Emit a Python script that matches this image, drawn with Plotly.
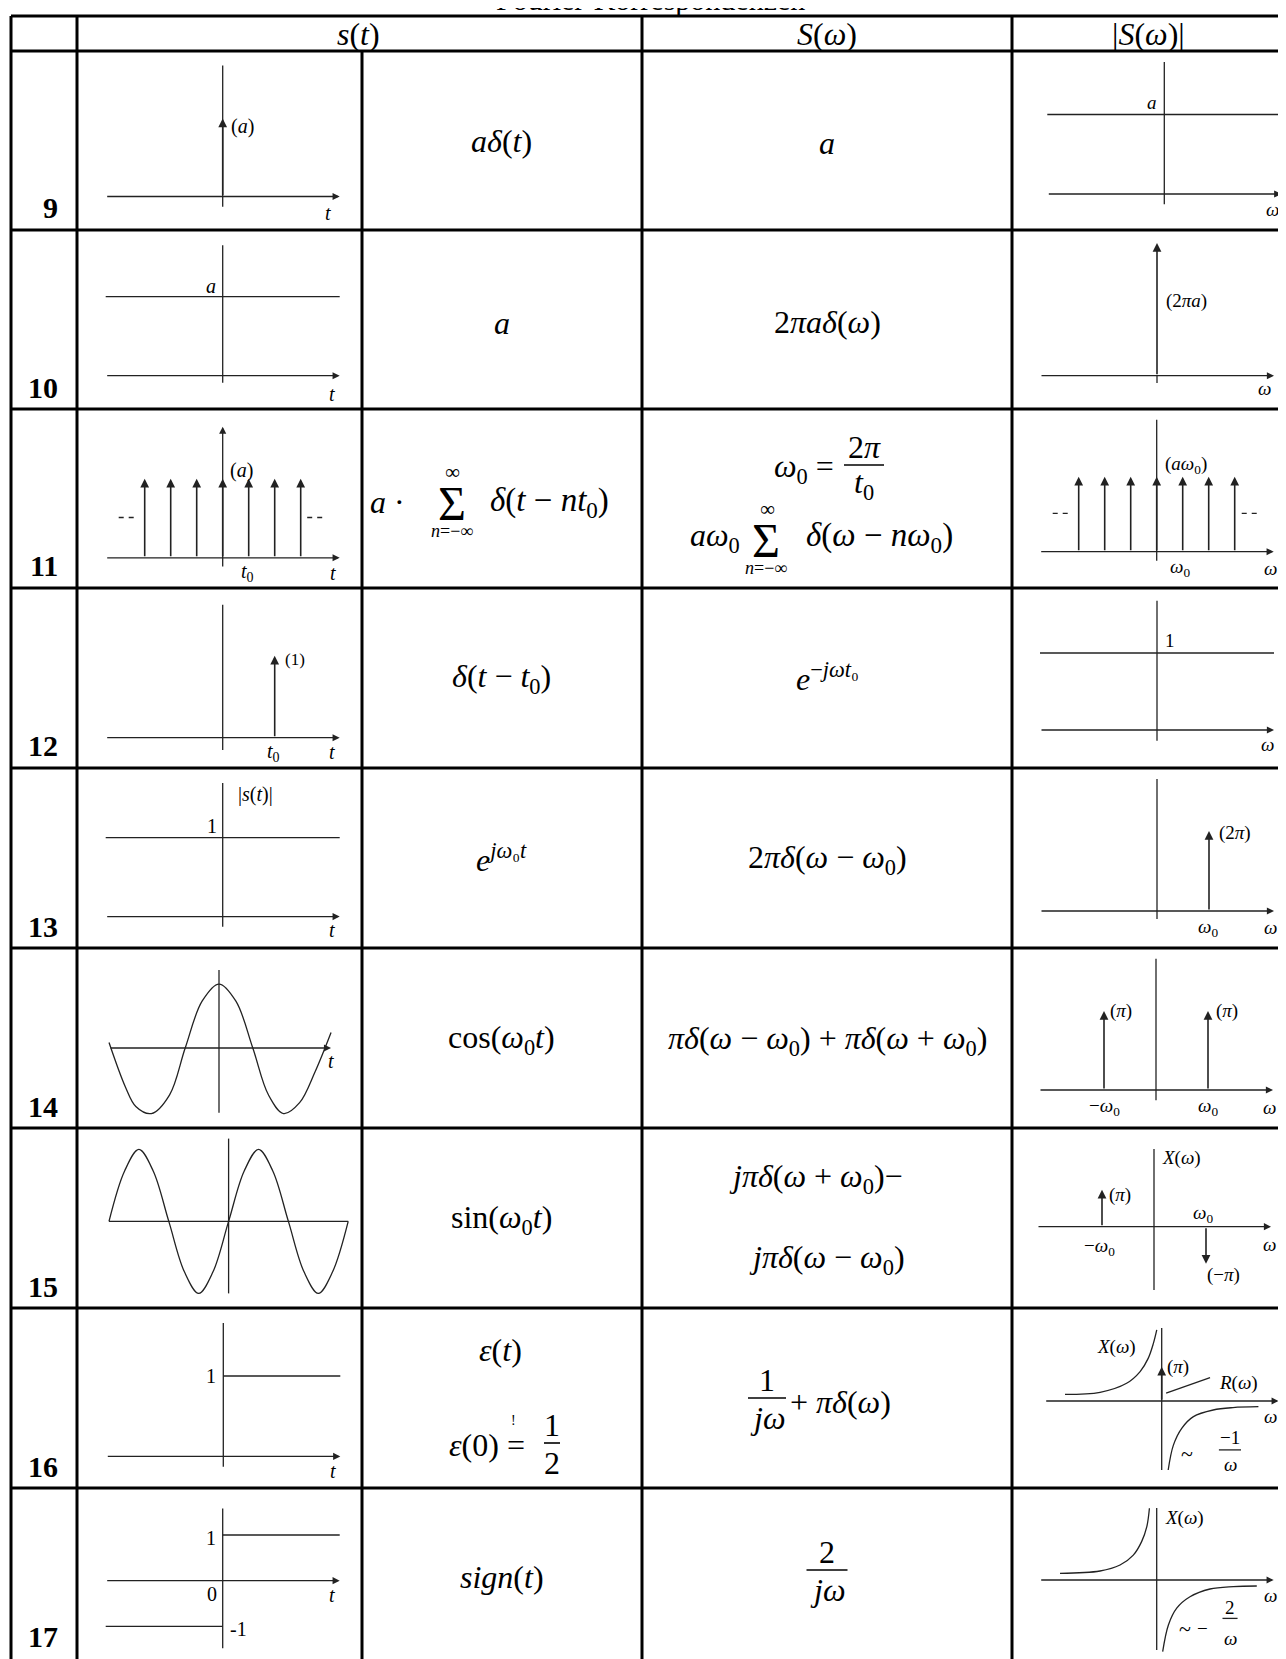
import plotly.graph_objects as go

# page size and the 8px body margin of the html page
W, H = 1286, 1659
OX, OY = 8, 8
FW, FH = W - OX, H - OY
FONT = "Liberation Serif, Times New Roman, serif"
INK = "#222222"

# ---------------- table text ----------------
TITLE = "Fourier-Korrespondenzen"
ROW_NUMBERS = ["9", "10", "11", "12", "13", "14", "15", "16", "17"]
HEADERS = ["<i>s</i>(<i>t</i>)", "<i>S</i>(<i>ω</i>)", "|<i>S</i>(<i>ω</i>)|"]
TIME_FORMULAS = [
    "<i>aδ</i>(<i>t</i>)",
    "<i>a</i>",
    None,
    "<i>δ</i>(<i>t</i> − <i>t</i><sub>0</sub>)",
    "<i>e</i><sup><i>jω</i>₀<i>t</i></sup>",
    "cos(<i>ω</i><sub>0</sub><i>t</i>)",
    "sin(<i>ω</i><sub>0</sub><i>t</i>)",
    None,
    "<i>sign</i>(<i>t</i>)",
]
FREQ_FORMULAS = [
    "<i>a</i>",
    "2<i>πaδ</i>(<i>ω</i>)",
    None,
    "<i>e</i><sup>−<i>jωt</i>₀</sup>",
    "2<i>πδ</i>(<i>ω</i> − <i>ω</i><sub>0</sub>)",
    "<i>πδ</i>(<i>ω</i> − <i>ω</i><sub>0</sub>) + <i>πδ</i>(<i>ω</i> + <i>ω</i><sub>0</sub>)",
    None,
    None,
    None,
]

# ---------------- sketch data (units: t0 spacing = 1, level = 1) ----------------
ST_IMPULSES = {0: ([0], [1]), 2: ([-3, -2, -1, 0, 1, 2, 3], [1, 1, 1, 1, 1, 1, 1]), 3: ([2], [1])}
SW_IMPULSES = {1: ([0], [1.66]), 2: ([-3, -2, -1, 0, 1, 2, 3], [1, 1, 1, 1, 1, 1, 1]),
               4: ([2], [1]), 5: ([-2, 2], [1, 1]), 6: ([-2, 2], [1, -1]), 7: ([0], [1.14])}
ST_LEVELS = {1: [([-4.5, 4.5], [1, 1])], 4: [([-4.5, 4.5], [1, 1])], 7: [([0, 4.5], [1, 1])],
             8: [([0, 4.5], [1, 1]), ([-4.5, 0], [-1, -1])]}
SW_LEVELS = {0: [([-4.5, 4.5], [1, 1])], 3: [([-4.5, 4.5], [1, 1])]}

COS_T = [-4.23, -3.6, -3.2, -2.6, -1.9, -1.3, -0.65, 0, 0.65, 1.3, 1.9, 2.48, 3.1, 3.7, 4.31]
COS_S = [0.07, -0.5, -0.75, -0.84, -0.6, 0.0, 0.6, 0.82, 0.6, 0.0, -0.6, -0.84, -0.7, -0.3, 0.2]
SIN_T = [-4.6, -4.0, -3.45, -2.9, -2.3, -1.7, -1.15, -0.6, 0, 0.6, 1.15, 1.7, 2.3, 2.9, 3.45, 4.0, 4.6]
SIN_S = [0, 0.7, 1, 0.7, 0, -0.7, -1, -0.7, 0, 0.7, 1, 0.7, 0, -0.7, -1, -0.7, 0]

X16_NEG_W = [-3.72, -2.37, -1.35, -0.83, -0.52, -0.32, -0.19]
X16_NEG = [0.22, 0.29, 0.59, 0.98, 1.42, 1.92, 2.37]
X16_POS_W = [0.25, 0.45, 0.77, 1.22, 1.98, 2.74, 3.72]
X16_POS = [-2.3, -1.47, -0.91, -0.52, -0.3, -0.22, -0.19]
R16_W = [0.17, 1.86]
R16 = [0.26, 0.78]
X17_NEG_W = [-3.72, -2.18, -1.41, -0.9, -0.58, -0.38, -0.28]
X17_NEG = [0.22, 0.3, 0.5, 0.83, 1.28, 1.78, 2.39]
X17_POS_W = [0.23, 0.45, 0.77, 1.28, 2.05, 2.95, 3.85]
X17_POS = [-2.39, -1.5, -0.94, -0.56, -0.3, -0.22, -0.2]

ST_LABELS = {
    0: [(0.25, 0.9, "(<i>a</i>)", "left"), (4.05, -0.21, "<i>t</i>", "center")],
    1: [(-0.2, 1.13, "<i>a</i>", "right"), (4.2, -0.23, "<i>t</i>", "center")],
    2: [(0.2, 1.11, "(<i>a</i>)", "left"), (0.94, -0.19, "<i>t</i><sub>0</sub>", "center"),
        (4.25, -0.19, "<i>t</i>", "center")],
    3: [(2.3, 0.95, "(1)", "left"), (1.94, -0.18, "<i>t</i><sub>0</sub>", "center"),
        (4.2, -0.18, "<i>t</i>", "center")],
    4: [(0.5, 1.55, "|<i>s</i>(<i>t</i>)|", "left"), (-0.15, 1.15, "1", "right"),
        (4.2, -0.17, "<i>t</i>", "center")],
    5: [(4.32, -0.17, "<i>t</i>", "center")],
    6: [],
    7: [(-0.2, 1.0, "1", "right"), (4.2, -0.18, "<i>t</i>", "center")],
    8: [(-0.2, 0.93, "1", "right"), (-0.15, -0.3, "0", "right"), (0.2, -1.06, "-1", "left"),
        (4.19, -0.31, "<i>t</i>", "center")],
}
SW_LABELS = {
    0: [(-0.2, 1.15, "<i>a</i>", "right"), (4.15, -0.2, "<i>ω</i>", "center")],
    1: [(0.27, 0.93, "(2<i>πa</i>)", "left"), (4.15, -0.16, "<i>ω</i>", "center")],
    2: [(0.25, 1.16, "(<i>aω</i><sub>0</sub>)", "left"), (0.9, -0.22, "<i>ω</i><sub>0</sub>", "center"),
        (4.36, -0.22, "<i>ω</i>", "center")],
    3: [(0.23, 1.16, "1", "left"), (4.24, -0.19, "<i>ω</i>", "center")],
    4: [(2.3, 0.98, "(2<i>π</i>)", "left"), (1.95, -0.21, "<i>ω</i><sub>0</sub>", "center"),
        (4.35, -0.21, "<i>ω</i>", "center")],
    5: [(-1.85, 1.0, "(<i>π</i>)", "left"), (2.23, 1.0, "(<i>π</i>)", "left"),
        (-2.0, -0.22, "−<i>ω</i><sub>0</sub>", "center"), (2.0, -0.22, "<i>ω</i><sub>0</sub>", "center"),
        (4.38, -0.22, "<i>ω</i>", "center")],
    6: [(0.23, 1.86, "<i>X</i>(<i>ω</i>)", "left"), (-1.79, 0.86, "(<i>π</i>)", "left"),
        (1.9, 0.33, "<i>ω</i><sub>0</sub>", "center"), (-2.08, -0.54, "−<i>ω</i><sub>0</sub>", "center"),
        (1.97, -1.3, "(−<i>π</i>)", "left"), (4.46, -0.49, "<i>ω</i>", "center")],
    7: [(-0.91, 1.81, "<i>X</i>(<i>ω</i>)", "right"), (0.13, 1.13, "(<i>π</i>)", "left"),
        (2.13, 0.6, "<i>R</i>(<i>ω</i>)", "left"), (4.17, -0.52, "<i>ω</i>", "center"),
        (0.96, -1.75, "~", "center"), (2.63, -1.2, "−1", "center"), (2.63, -2.1, "<i>ω</i>", "center")],
    8: [(0.23, 2.06, "<i>X</i>(<i>ω</i>)", "left"), (4.36, -0.5, "<i>ω</i>", "center"),
        (1.09, -1.62, "~", "center"), (1.75, -1.6, "−", "center"),
        (2.82, -0.9, "2", "center"), (2.82, -1.95, "<i>ω</i>", "center")],
}

# ---------------- geometry (pixels of the 1286x1659 page) ----------------
COL_X = [11, 77, 362, 642, 1012, 1285]
ROW_Y = [16, 51, 230, 409, 588, 768, 948, 1128, 1308, 1488, 1658]
UX = 26  # px per horizontal unit in the sketches

ST_CX = [222.7, 222.7, 222.7, 222.7, 222.7, 219.0, 228.6, 223.3, 222.7]
ST_AY = [196.5, 375.7, 557.8, 737.7, 916.6, 1048.0, 1221.4, 1456.4, 1580.7]
ST_UY = [78, 79, 79, 82, 79, 78, 72, 80.4, 45.7]
ST_HAX = [(-4.5, 4.5, True)] * 5 + [(-4.23, 4.31, True), (-4.6, 4.6, False), (-4.5, 4.5, True), (-4.5, 4.5, True)]
ST_VAX = [(-0.13, 1.68, False), (-0.09, 1.65, False), (-0.13, 1.66, True), (-0.15, 1.62, False),
          (-0.13, 1.69, False), (-0.83, 1.0, False), (-1.0, 1.15, False), (-0.13, 1.66, False),
          (-1.48, 1.58, False)]

SW_CX = [1164.3, 1157, 1156.7, 1157, 1157, 1156, 1154, 1161.7, 1156.7]
SW_AY = [194, 375.7, 551.7, 730, 911, 1090, 1226.7, 1401, 1580]
SW_UY = [79.5, 80, 75, 77, 80, 79, 37, 30, 30]
SW_VAX = [(-0.13, 1.66), (-0.09, 0.0), (-0.12, 1.76), (-0.14, 1.68), (-0.1, 1.65),
          (-0.13, 1.66), (-1.71, 2.1), (-2.3, 2.43), (-2.33, 2.4)]

fig = go.Figure()


def px_x(px):
    return (px - OX) / FW


def px_y(py):
    return 1 - (py - OY) / FH


def ax_id(k, kind):
    return kind if k == 1 else f"{kind}{k}"


def add_panel(k, col, row, cx, ay, uy):
    x0, x1 = COL_X[col] + 3, COL_X[col + 1] - 3
    y0, y1 = ROW_Y[row + 1] + 3, ROW_Y[row + 2] - 3
    suffix = "" if k == 1 else str(k)
    fig.update_layout({
        "xaxis" + suffix: dict(domain=[px_x(x0), px_x(x1)], range=[(x0 - cx) / UX, (x1 - cx) / UX],
                               visible=False, fixedrange=True, anchor=ax_id(k, "y")),
        "yaxis" + suffix: dict(domain=[px_y(y1), px_y(y0)], range=[(ay - y1) / uy, (ay - y0) / uy],
                               visible=False, fixedrange=True, anchor=ax_id(k, "x")),
    })


def seg(k, xs, ys, width=1.3, dash=None, shape="linear"):
    fig.add_trace(go.Scatter(x=xs, y=ys, mode="lines",
                             line=dict(color=INK, width=width, dash=dash, shape=shape),
                             xaxis=ax_id(k, "x"), yaxis=ax_id(k, "y"),
                             hoverinfo="skip", showlegend=False))


def arrow(k, x0, y0, x1, y1, width=1.3):
    fig.add_annotation(x=x1, y=y1, ax=x0, ay=y0, xref=ax_id(k, "x"), yref=ax_id(k, "y"),
                       axref=ax_id(k, "x"), ayref=ax_id(k, "y"), text="", showarrow=True,
                       arrowhead=2, arrowsize=1.1, arrowwidth=width, arrowcolor=INK, standoff=0)


def label(k, x, y, text, xanchor="center", size=20):
    fig.add_annotation(x=x, y=y, xref=ax_id(k, "x"), yref=ax_id(k, "y"), text=text,
                       showarrow=False, xanchor=xanchor, yanchor="middle",
                       font=dict(family=FONT, size=size, color="black"))


def ptext(px, py, text, size=32, xanchor="center", yanchor="middle"):
    fig.add_annotation(x=px_x(px), y=px_y(py), xref="paper", yref="paper", text=text,
                       showarrow=False, xanchor=xanchor, yanchor=yanchor,
                       font=dict(family=FONT, size=size, color="black"))


def pline(x0, y0, x1, y1, width=3):
    fig.add_shape(type="line", xref="paper", yref="paper", x0=px_x(x0), x1=px_x(x1),
                  y0=px_y(y0), y1=px_y(y1), line=dict(color="black", width=width))


def pfrac(cx, bar_y, num, den, bar_w, size=32):
    ptext(cx, bar_y - 0.55 * size, num, size)
    ptext(cx, bar_y + 0.62 * size, den, size)
    pline(cx - bar_w / 2, bar_y, cx + bar_w / 2, bar_y, width=1.6)


def psum(cx, cy):
    ptext(cx, cy + 2, "Σ", 48)
    ptext(cx + 1, cy - 29, "∞", 21)
    ptext(cx, cy + 30, "<i>n</i>=−∞", 18)


# ---------------- s(t) sketches ----------------
for r in range(9):
    k = r + 1
    add_panel(k, 1, r, ST_CX[r], ST_AY[r], ST_UY[r])
    hx0, hx1, harrow = ST_HAX[r]
    if harrow:
        arrow(k, hx0, 0, hx1, 0)
    else:
        seg(k, [hx0, hx1], [0, 0])
    vy0, vy1, varrow = ST_VAX[r]
    if varrow:
        arrow(k, 0, vy0, 0, vy1)
    else:
        seg(k, [0, 0], [vy0, vy1])
    if r in ST_IMPULSES:
        for t, h in zip(*ST_IMPULSES[r]):
            arrow(k, t, 0, t, h, width=1.6)
    for xs, ys in ST_LEVELS.get(r, []):
        seg(k, xs, ys)
    for x, y, txt, anc in ST_LABELS[r]:
        label(k, x, y, txt, anc, size=17 if txt == "(1)" else 20)

seg(3, [-4.0, -3.25], [0.51, 0.51], dash="5px,5px")
seg(3, [3.25, 4.0], [0.51, 0.51], dash="5px,5px")
seg(6, COS_T, COS_S, shape="spline")
seg(7, SIN_T, SIN_S, shape="spline")

# ---------------- |S(w)| sketches ----------------
for r in range(9):
    k = r + 10
    add_panel(k, 4, r, SW_CX[r], SW_AY[r], SW_UY[r])
    arrow(k, -4.5, 0, 4.5, 0)
    vy0, vy1 = SW_VAX[r]
    seg(k, [0, 0], [vy0, vy1])
    if r in SW_IMPULSES:
        for w, h in zip(*SW_IMPULSES[r]):
            arrow(k, w, 0, w, h, width=1.6)
    for xs, ys in SW_LEVELS.get(r, []):
        seg(k, xs, ys)
    for x, y, txt, anc in SW_LABELS[r]:
        label(k, x, y, txt, anc, size=22 if txt == "~" else 19)

seg(12, [-4.0, -3.27], [0.51, 0.51], dash="5px,5px")
seg(12, [3.27, 4.0], [0.51, 0.51], dash="5px,5px")
seg(17, X16_NEG_W, X16_NEG, shape="spline")
seg(17, X16_POS_W, X16_POS, shape="spline")
seg(17, R16_W, R16)
seg(17, [2.2, 3.05], [-1.63, -1.63], width=1.3)
seg(18, X17_NEG_W, X17_NEG, shape="spline")
seg(18, X17_POS_W, X17_POS, shape="spline")
seg(18, [2.53, 3.11], [-1.28, -1.28], width=1.3)

# ---------------- formulas ----------------
TIME_Y = [141, 323, None, 678, 858, 1039, 1219, None, 1577]
FREQ_Y = [143, 322, None, 677, 859, 1040, None, None, None]
for r in range(9):
    if TIME_FORMULAS[r]:
        ptext(502, TIME_Y[r], TIME_FORMULAS[r])
    if FREQ_FORMULAS[r]:
        ptext(827, FREQ_Y[r], FREQ_FORMULAS[r])

# row 11
ptext(407, 502, "<i>a</i> ·", xanchor="right")
psum(452, 501)
ptext(488, 502, "<i>δ</i>(<i>t</i> − <i>nt</i><sub>0</sub>)", 33, xanchor="left")
ptext(836, 468, "<i>ω</i><sub>0</sub> =", xanchor="right")
pfrac(864, 465, "2<i>π</i>", "<i>t</i><sub>0</sub>", 40)
ptext(742, 538, "<i>aω</i><sub>0</sub>", xanchor="right")
psum(766, 538)
ptext(804, 538, "<i>δ</i>(<i>ω</i> − <i>nω</i><sub>0</sub>)", 33, xanchor="left")
# row 15
ptext(816, 1178, "<i>jπδ</i>(<i>ω</i> + <i>ω</i><sub>0</sub>)−")
ptext(827, 1259, "<i>jπδ</i>(<i>ω</i> − <i>ω</i><sub>0</sub>)")
# row 16
ptext(500, 1350, "<i>ε</i>(<i>t</i>)")
ptext(527, 1445, "<i>ε</i>(0) =", xanchor="right")
ptext(513, 1420, "!", 14)
pfrac(552, 1443, "1", "2", 16)
pfrac(767, 1398, "1", "<i>jω</i>", 38)
ptext(788, 1402, "+ <i>πδ</i>(<i>ω</i>)", xanchor="left")
# row 17
pfrac(827, 1570, "2", "<i>jω</i>", 41)

# ---------------- table frame ----------------
ptext(650, 18, TITLE, 30, yanchor="bottom")
ptext(358, 34, HEADERS[0], 32)
ptext(827, 34, HEADERS[1], 32)
ptext(1148, 34, HEADERS[2], 32)
for r, n in enumerate(ROW_NUMBERS):
    ptext(60, ROW_Y[r + 2] - 22, f"<b>{n}</b>", 30, xanchor="right")

for y in ROW_Y[:-1]:
    pline(COL_X[0], y, W, y)
for x in [COL_X[0], COL_X[1], COL_X[3], COL_X[4]]:
    pline(x, ROW_Y[0], x, H)
pline(COL_X[2], ROW_Y[1], COL_X[2], H)

fig.update_layout(width=FW, height=FH, margin=dict(l=0, r=0, t=0, b=0),
                  plot_bgcolor="white", paper_bgcolor="white", showlegend=False)

fig.write_html("out.html")
